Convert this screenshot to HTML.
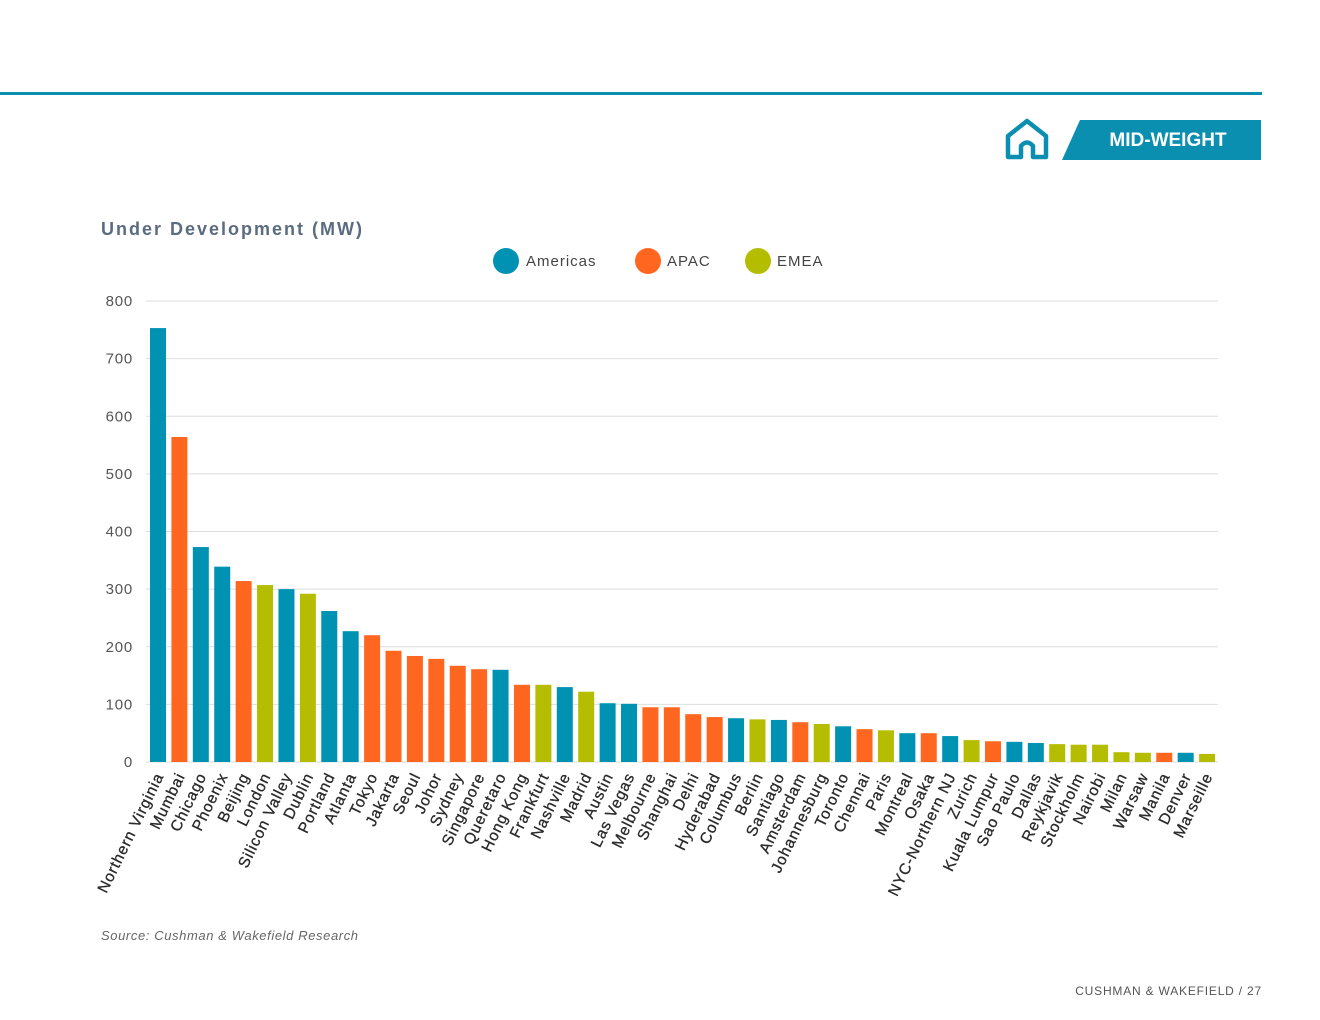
<!DOCTYPE html>
<html><head><meta charset="utf-8"><style>
body{margin:0;background:#fff;font-family:"Liberation Sans",sans-serif;}
#wrap{position:relative;width:1320px;height:1020px;overflow:hidden;}
svg text{font-family:"Liberation Sans",sans-serif;}
</style></head><body><div id="wrap">
<svg id="chart" width="1320" height="1020">
<rect x="0" y="92" width="1262" height="3" fill="#0b8fb0"/>
<g fill="none" stroke="#0b8fb0" stroke-width="4.5" stroke-linejoin="round">
<path d="M1008,157 L1008,136 L1027,121 L1046,136 L1046,157 L1033,157 L1033,146 Q1027,139 1021,146 L1021,157 Z"/>
</g>
<polygon points="1080,120 1261,120 1261,160 1062,160" fill="#0b8fb0"/>
<text x="1168" y="146" font-size="19" font-weight="bold" fill="#fff" text-anchor="middle">MID-WEIGHT</text>
<text x="101" y="235" font-size="18" font-weight="bold" fill="#5b6b80" letter-spacing="2">Under Development (MW)</text>
<g>
<circle cx="506" cy="261" r="13" fill="#0092b3"/>
<text x="526" y="266" font-size="15" fill="#444" letter-spacing="1">Americas</text>
<circle cx="648" cy="261" r="13" fill="#ff6720"/>
<text x="667" y="266" font-size="15" fill="#444" letter-spacing="1">APAC</text>
<circle cx="758" cy="261" r="13" fill="#b5bd00"/>
<text x="777" y="266" font-size="15" fill="#444" letter-spacing="1">EMEA</text>
</g>
<g id="grid"></g><g id="bars"></g><g id="labels"></g>
<text x="101" y="940" font-size="13" font-style="italic" fill="#666" letter-spacing="0.6">Source: Cushman &amp; Wakefield Research</text>
<text x="1262" y="995" font-size="12" fill="#555" text-anchor="end" letter-spacing="0.8">CUSHMAN &amp; WAKEFIELD / 27</text>
</svg>
<script>
const categories=["Northern Virginia","Mumbai","Chicago","Phoenix","Beijing","London","Silicon Valley","Dublin","Portland","Atlanta","Tokyo","Jakarta","Seoul","Johor","Sydney","Singapore","Queretaro","Hong Kong","Frankfurt","Nashville","Madrid","Austin","Las Vegas","Melbourne","Shanghai","Delhi","Hyderabad","Columbus","Berlin","Santiago","Amsterdam","Johannesburg","Toronto","Chennai","Paris","Montreal","Osaka","NYC-Northern NJ","Zurich","Kuala Lumpur","Sao Paulo","Dallas","Reykjavik","Stockholm","Nairobi","Milan","Warsaw","Manila","Denver","Marseille"];
const values=[753,564,373,339,314,307,300,292,262,227,220,193,184,179,167,161,160,134,134,130,122,102,101,95,95,83,78,76,74,73,69,66,62,57,55,50,50,45,38,36,35,33,31,30,30,17,16,16,16,14];
const regions=["A","P","A","A","P","E","A","E","A","A","P","P","P","P","P","P","A","P","E","A","E","A","A","P","P","P","P","A","E","A","P","E","A","P","E","A","P","A","E","P","A","A","E","E","E","E","E","P","A","E"];
const ticks=[0,100,200,300,400,500,600,700,800];
const colors={A:"#0092b3",P:"#ff6720",E:"#b5bd00"};
const NS="http://www.w3.org/2000/svg";
const y0=762,y1=301,vmax=800,x0=158,step=21.41,bw=16;
const yS=v=>y0-(v/vmax)*(y0-y1);
const xS=i=>x0+i*step;
const grid=document.getElementById('grid'),bars=document.getElementById('bars'),labels=document.getElementById('labels');
ticks.forEach(t=>{
 const l=document.createElementNS(NS,'line');
 l.setAttribute('x1',146);l.setAttribute('x2',1218);l.setAttribute('y1',yS(t));l.setAttribute('y2',yS(t));
 l.setAttribute('stroke','#dedede');l.setAttribute('stroke-width',1);
 
 
 grid.appendChild(l);
 const tx=document.createElementNS(NS,'text');
 tx.setAttribute('x',133);tx.setAttribute('y',yS(t)+5);tx.setAttribute('text-anchor','end');
 tx.setAttribute('font-size','15');tx.setAttribute('fill','#555');tx.setAttribute('letter-spacing','0.8');tx.textContent=t;
 
 
 grid.appendChild(tx);
});
categories.forEach((c,i)=>{
 const r=document.createElementNS(NS,'rect');
 r.setAttribute('x',xS(i)-bw/2);r.setAttribute('width',bw);
 r.setAttribute('y',yS(values[i]));r.setAttribute('height',y0-yS(values[i]));
 r.setAttribute('fill',colors[regions[i]]);
 
 
 bars.appendChild(r);
 const t=document.createElementNS(NS,'text');
 const lx=xS(i)+6,ly=776;
 t.setAttribute('transform','translate('+lx+','+ly+') rotate(-64)');
 t.setAttribute('text-anchor','end');t.setAttribute('font-size','15.5');t.setAttribute('fill','#2a2a2a');
 t.setAttribute('letter-spacing','0.9');
 t.setAttribute('stroke','#2a2a2a');t.setAttribute('stroke-width','0.3');
 t.textContent=c;
 
 
 labels.appendChild(t);
});
</script>
</div></body></html>
